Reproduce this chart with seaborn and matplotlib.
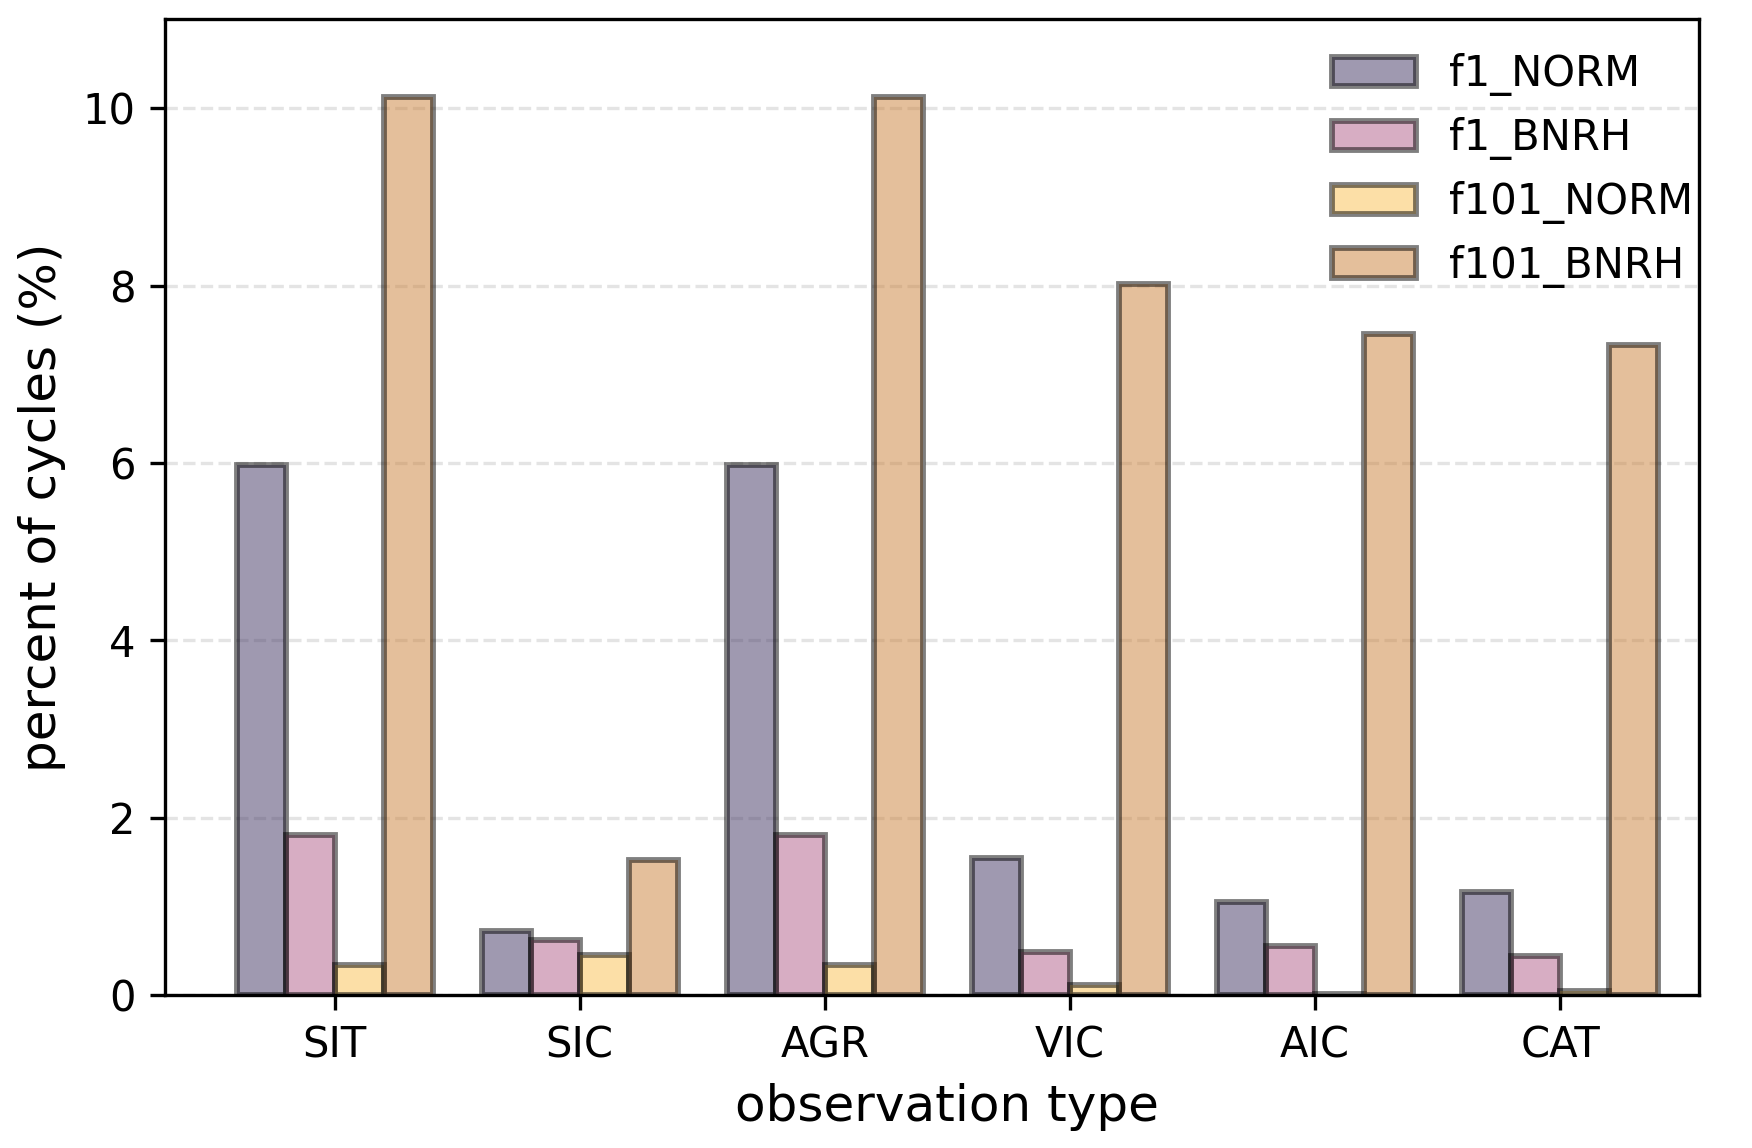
import matplotlib
matplotlib.use("Agg")
import matplotlib.pyplot as plt
import seaborn as sns
import pandas as pd

obs_types = ["SIT", "SIC", "AGR", "VIC", "AIC", "CAT"]
f1_norm = [5.98, 0.72, 5.98, 1.55, 1.05, 1.17]
f1_bnrh = [1.81, 0.62, 1.81, 0.49, 0.56, 0.44]
f101_norm = [0.34, 0.45, 0.34, 0.12, 0.01, 0.05]
f101_bnrh = [10.13, 1.52, 10.13, 8.02, 7.45, 7.33]

series = {"f1_NORM": f1_norm, "f1_BNRH": f1_bnrh,
          "f101_NORM": f101_norm, "f101_BNRH": f101_bnrh}
colors = ["#413563", "#b15d89", "#fbc151", "#cb8139"]

rows = []
for name, vals in series.items():
    for obs, v in zip(obs_types, vals):
        rows.append({"obs": obs, "exp": name, "pct": v})
df = pd.DataFrame(rows)

plt.rcParams.update({'font.size': 10})
fig, ax = plt.subplots(figsize=(5.843, 3.827), dpi=300)
sns.barplot(data=df, x="obs", y="pct", hue="exp", palette=colors,
            saturation=1, alpha=0.5, edgecolor="black", linewidth=1.4, ax=ax)
ax.set_axisbelow(True)
ax.yaxis.grid(True, linestyle="--", color="lightgray", alpha=0.6, linewidth=0.8)
ax.set_ylim(0, 11)
ax.set_xlim(-0.693, 5.565)
ax.tick_params(labelsize=10)
ax.set_xlabel("observation type", fontsize=12)
ax.xaxis.label.set_x(0.51)
ax.set_ylabel("percent of cycles (%)", fontsize=12)
ax.legend(frameon=False, fontsize=10, loc="upper right",
          bbox_to_anchor=(1.021, 1.004))
fig.subplots_adjust(left=0.094, right=0.969, top=0.983, bottom=0.133)
plt.savefig("out.png", dpi=300)
